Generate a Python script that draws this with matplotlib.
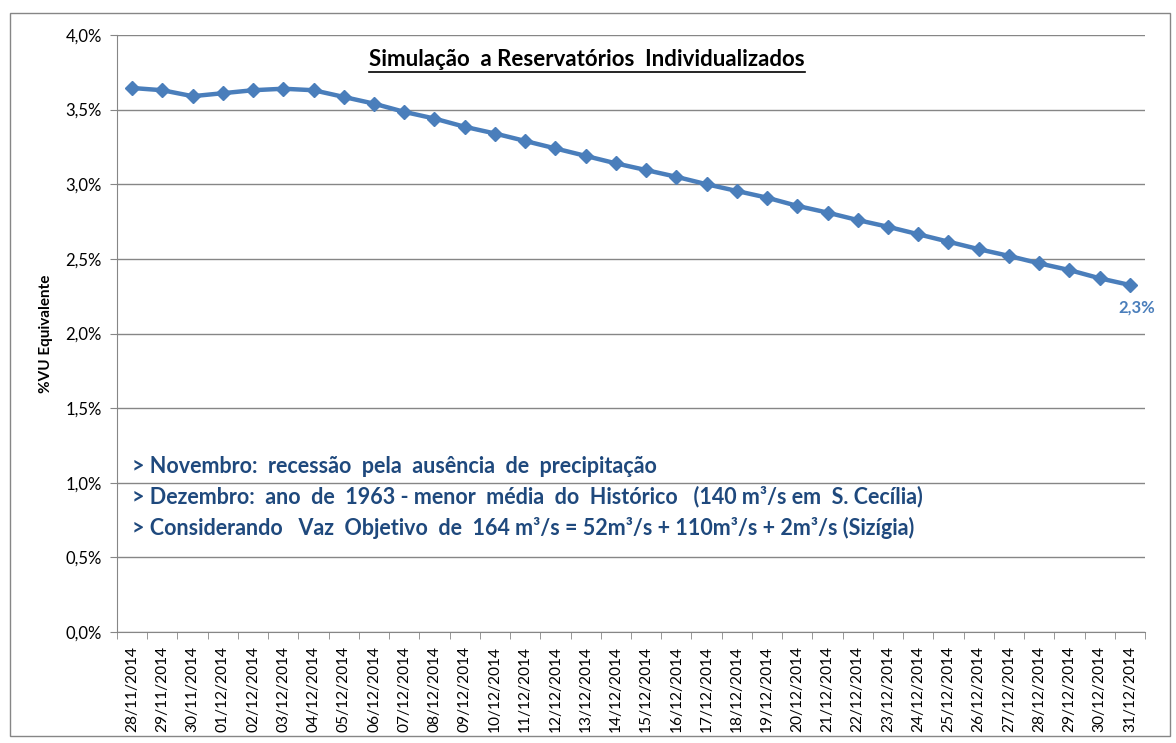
import matplotlib
matplotlib.use("Agg")
import matplotlib.pyplot as plt
from matplotlib.patches import Rectangle
from matplotlib.ticker import FuncFormatter, MultipleLocator

dates = ["28/11/2014", "29/11/2014", "30/11/2014", "01/12/2014", "02/12/2014",
         "03/12/2014", "04/12/2014", "05/12/2014", "06/12/2014", "07/12/2014",
         "08/12/2014", "09/12/2014", "10/12/2014", "11/12/2014", "12/12/2014",
         "13/12/2014", "14/12/2014", "15/12/2014", "16/12/2014", "17/12/2014",
         "18/12/2014", "19/12/2014", "20/12/2014", "21/12/2014", "22/12/2014",
         "23/12/2014", "24/12/2014", "25/12/2014", "26/12/2014", "27/12/2014",
         "28/12/2014", "29/12/2014", "30/12/2014", "31/12/2014"]
vu_pct = [3.645, 3.63, 3.59, 3.61, 3.63, 3.64, 3.63, 3.585, 3.54, 3.485,
          3.44, 3.385, 3.34, 3.29, 3.24, 3.19, 3.14, 3.095, 3.05, 3.0,
          2.955, 2.91, 2.855, 2.81, 2.76, 2.715, 2.665, 2.615, 2.565, 2.52,
          2.47, 2.425, 2.37, 2.325]
title = "Simulação  a Reservatórios  Individualizados"
notes = ["> Novembro:  recessão  pela  ausência  de  precipitação",
         "> Dezembro:  ano  de  1963 - menor  média  do  Histórico   (140 m³/s em  S. Cecília)",
         "> Considerando   Vaz  Objetivo  de  164 m³/s = 52m³/s + 110m³/s + 2m³/s (Sizígia)"]
last_label = "2,3%"

plt.rcParams['font.family'] = ['Lato', 'DejaVu Sans']

W, H = 1176, 743
fig = plt.figure(figsize=(W / 100, H / 100), dpi=100)
fig.patch.set_facecolor("white")
fig.patches.append(Rectangle((10 / W, 1 - 736 / H), 1160 / W, 723 / H,
                             transform=fig.transFigure, fill=False,
                             edgecolor="#868686", linewidth=1))

ax = fig.add_axes([117 / W, 1 - 632 / H, (1145 - 117) / W, (632 - 35) / H])
x = list(range(len(dates)))
ax.plot(x, vu_pct, color="#4A7EBB", linewidth=3.2, marker="D", markersize=7,
        markerfacecolor="#4A7EBB", markeredgecolor="#4A7EBB", zorder=3)

ax.set_xlim(-0.5, len(dates) - 0.5)
ax.set_ylim(0, 4.0)
ax.yaxis.set_major_locator(MultipleLocator(0.5))
ax.yaxis.set_major_formatter(FuncFormatter(lambda v, p: f"{v:.1f}%".replace(".", ",")))
ax.set_xticks(x)
ax.set_xticklabels(dates, rotation=90, fontsize=11.2)
ax.set_xticks([i - 0.5 for i in range(len(dates) + 1)], minor=True)
ax.tick_params(axis="x", which="major", length=0, pad=10)
ax.tick_params(axis="x", which="minor", length=5, color="#868686", direction="out")
ax.tick_params(axis="y", length=5, color="#868686", direction="out", labelsize=12, pad=6)
ax.grid(axis="y", color="#868686", linewidth=1)
ax.set_axisbelow(True)
for s in ["top", "right"]:
    ax.spines[s].set_visible(False)
for s in ["left", "bottom"]:
    ax.spines[s].set_color("#868686")

ax.set_ylabel("%VU Equivalente", fontsize=11, fontweight="bold", labelpad=9)

ax.text((587 - 117) / (1145 - 117), (632 - 60) / (632 - 35), title, transform=ax.transAxes,
        ha="center", va="center", fontsize=16, fontweight="bold", color="black")
# underline
fig.lines.append(plt.Line2D([369 / W, 805 / W], [1 - 72 / H, 1 - 72 / H],
                            transform=fig.transFigure, color="black", linewidth=1.2))

for i, line in enumerate(notes):
    ax.text(0.015, (632 - (466 + 31 * i)) / (632 - 35), line, transform=ax.transAxes,
            ha="left", va="center", fontsize=15.5, fontweight="bold", color="#1F497D")

ax.annotate(last_label, (x[-1], vu_pct[-1]), xytext=(5, -16), textcoords="offset points",
            ha="center", va="center", fontsize=12, fontweight="bold", color="#4A7EBB")

fig.savefig("out.png", dpi=100)
